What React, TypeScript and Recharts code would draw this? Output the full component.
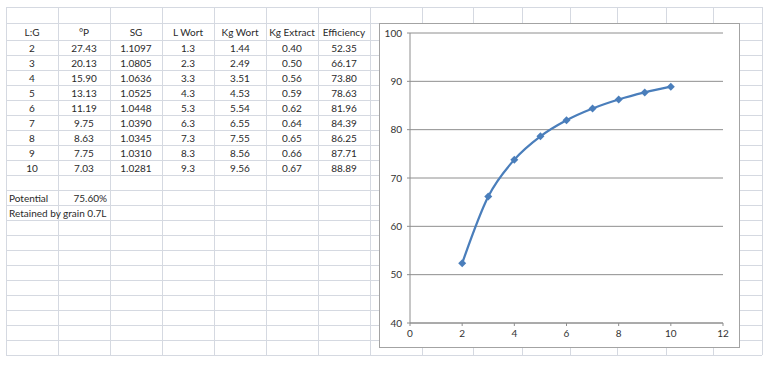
import React from "react";
import { CartesianGrid, Line, LineChart, XAxis, YAxis } from "recharts";

const headers = ["L:G", "°P", "SG", "L Wort", "Kg Wort", "Kg Extract", "Efficiency"];
const ratio = [2, 3, 4, 5, 6, 7, 8, 9, 10];
const plato = ["27.43", "20.13", "15.90", "13.13", "11.19", "9.75", "8.63", "7.75", "7.03"];
const gravity = ["1.1097", "1.0805", "1.0636", "1.0525", "1.0448", "1.0390", "1.0345", "1.0310", "1.0281"];
const litresWort = ["1.3", "2.3", "3.3", "4.3", "5.3", "6.3", "7.3", "8.3", "9.3"];
const kgWort = ["1.44", "2.49", "3.51", "4.53", "5.54", "6.55", "7.55", "8.56", "9.56"];
const kgExtract = ["0.40", "0.50", "0.56", "0.59", "0.62", "0.64", "0.65", "0.66", "0.67"];
const efficiency = [52.35, 66.17, 73.8, 78.63, 81.96, 84.39, 86.25, 87.71, 88.89];

const xTicks = [0, 2, 4, 6, 8, 10, 12];
const yTicks = [40, 50, 60, 70, 80, 90, 100];

// spreadsheet grid edges (px)
const colEdges = [6, 58, 110, 162, 214, 266, 318, 370, 422, 473, 522, 570, 617, 666, 713, 762];
const rowEdges = [7, 23, ...Array.from({ length: 22 }, (_, i) => 40 + i * 15)];

const chartData = ratio.map((lg, i) => ({ lg, eff: efficiency[i] }));

const font = "Lato, 'Open Sans', sans-serif";
const gridColor = "#d5d9e1";

function Diamond(props: any) {
  const { cx, cy } = props;
  if (cx == null || cy == null) return null;
  const r = 4;
  return (
    <path
      d={`M${cx},${cy - r}L${cx + r},${cy}L${cx},${cy + r}L${cx - r},${cy}Z`}
      fill="#4a7ebb"
    />
  );
}

function Cell({ row, col, text, align = "center" }: { row: number; col: number; text: string; align?: string }) {
  const left = colEdges[col];
  const width = colEdges[col + 1] - left;
  const top = rowEdges[row];
  const h = rowEdges[row + 1] - top;
  return (
    <div
      style={{
        position: "absolute",
        left: align === "left" ? left + 3 : left,
        top: top + 1,
        width: align === "left" ? 200 : width - (align === "right" ? 3 : 0),
        height: h,
        lineHeight: `${h}px`,
        textAlign: align as any,
        fontSize: 10,
        color: "#2a2a2a",
        whiteSpace: "nowrap",
      }}
    >
      {text}
    </div>
  );
}

export default function App() {
  const columns = [
    ratio.map(String),
    plato,
    gravity,
    litresWort,
    kgWort,
    kgExtract,
    efficiency.map((v) => v.toFixed(2)),
  ];

  return (
    <div
      style={{
        position: "absolute",
        left: 0,
        top: 0,
        width: 772,
        height: 373,
        background: "#fff",
        fontFamily: font,
        overflow: "hidden",
      }}
    >
      {colEdges.map((x) => (
        <div
          key={`v${x}`}
          style={{
            position: "absolute",
            left: x,
            top: rowEdges[0],
            width: 1,
            height: rowEdges[rowEdges.length - 1] - rowEdges[0],
            background: gridColor,
          }}
        />
      ))}
      {rowEdges.map((y) => (
        <div
          key={`h${y}`}
          style={{
            position: "absolute",
            left: colEdges[0],
            top: y,
            width: colEdges[colEdges.length - 1] - colEdges[0],
            height: 1,
            background: gridColor,
          }}
        />
      ))}

      {headers.map((h, c) => (
        <Cell key={h} row={1} col={c} text={h} />
      ))}
      {columns.map((vals, c) =>
        vals.map((v, r) => <Cell key={`${c}-${r}`} row={r + 2} col={c} text={v} />)
      )}
      <Cell row={12} col={0} text="Potential" align="left" />
      <Cell row={12} col={1} text="75.60%" align="right" />
      <Cell row={13} col={0} text="Retained by grain 0.7L" align="left" />

      <div
        style={{
          position: "absolute",
          left: 379,
          top: 23,
          width: 361,
          height: 325,
          boxSizing: "border-box",
          border: "1px solid #a3a3a3",
          background: "#fff",
        }}
      >
        <LineChart
          width={359}
          height={323}
          data={chartData}
          margin={{ top: 9, right: 16, bottom: 0, left: 0 }}
        >
          <CartesianGrid vertical={false} stroke="#8e8e8e" />
          <XAxis
            dataKey="lg"
            type="number"
            domain={[0, 12]}
            ticks={xTicks}
            height={24}
            stroke="#8e8e8e"
            tickSize={3}
            tickMargin={4}
            tick={{ fontSize: 10, fill: "#333", fontFamily: font }}
          />
          <YAxis
            type="number"
            domain={[40, 100]}
            ticks={yTicks}
            width={30}
            stroke="#8e8e8e"
            tickSize={3}
            tickMargin={5}
            tick={{ fontSize: 10, fill: "#333", fontFamily: font }}
          />
          <Line
            dataKey="eff"
            type="monotone"
            stroke="#4a7ebb"
            strokeWidth={2.25}
            dot={<Diamond />}
            activeDot={false}
            isAnimationActive={false}
          />
        </LineChart>
      </div>
    </div>
  );
}
